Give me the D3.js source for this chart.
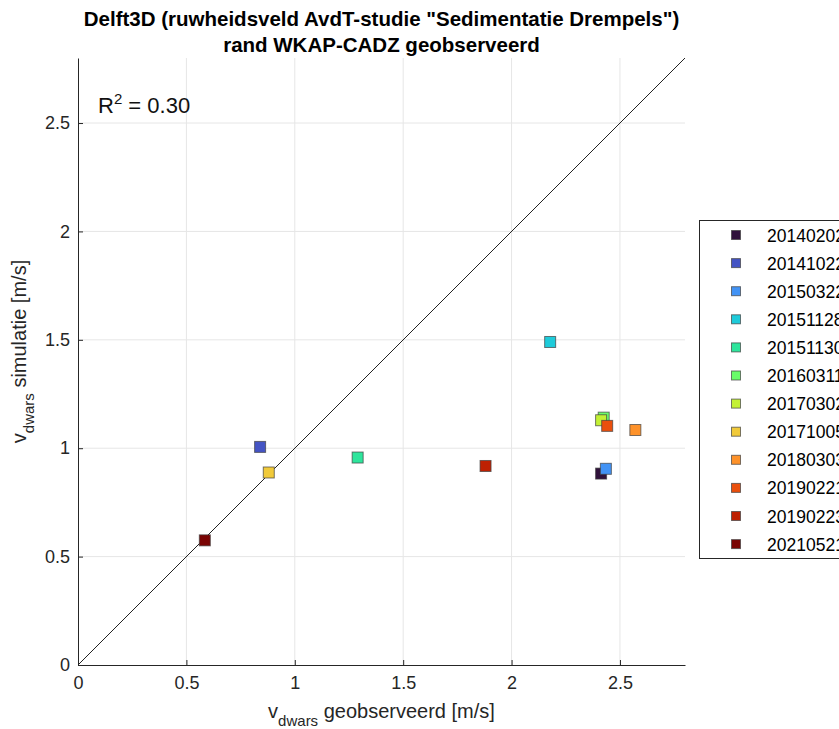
<!DOCTYPE html>
<html><head><meta charset="utf-8">
<script src="https://cdn.jsdelivr.net/npm/d3@7"></script>
<style>body{margin:0;background:#fff;} svg{display:block;font-family:"Liberation Sans",Arial,sans-serif;}</style>
</head><body>
<script>
const labels = ["20140202","20141022","20150322","20151128","20151130","20160311","20170302","20171005","20180303","20190221","20190223","20210521"];
const observed = [2.413,0.840,2.435,2.178,1.290,2.425,2.413,0.880,2.571,2.441,1.880,0.585];
const simulated = [0.883,1.006,0.905,1.490,0.957,1.141,1.129,0.888,1.084,1.103,0.918,0.575];
const colors = ["#30123b","#4454c4","#4293f5","#1ecbda","#2ee59c","#6afd6a","#c3f134","#f1ca3a","#fe922a","#ea4f0d","#be2102","#7a0403"];
const xTicks = [0,0.5,1,1.5,2,2.5];
const yTicks = [0,0.5,1,1.5,2,2.5];
const r2 = "0.30";

const W=839,H=729;
const m={l:78,r:685,t:58,b:665};
const svg=d3.select("body").append("svg").attr("width",W).attr("height",H);
const x=d3.scaleLinear().domain([0,2.8]).range([m.l,m.r]);
const y=d3.scaleLinear().domain([0,2.8]).range([m.b,m.t]);

// grid
svg.append("g").selectAll("line").data(xTicks.slice(1)).join("line")
 .attr("x1",d=>x(d)).attr("x2",d=>x(d)).attr("y1",m.t).attr("y2",m.b)
 .attr("stroke","#e6e6e6").attr("stroke-width",1);
svg.append("g").selectAll("line").data(yTicks.slice(1)).join("line")
 .attr("y1",d=>y(d)).attr("y2",d=>y(d)).attr("x1",m.l).attr("x2",m.r)
 .attr("stroke","#e6e6e6").attr("stroke-width",1);

// axes
const xa=svg.append("g").attr("transform",`translate(0,${m.b})`)
 .call(d3.axisBottom(x).tickValues(xTicks).tickSize(-5).tickSizeOuter(0).tickPadding(11).tickFormat(d=>d3.format("")(d)));
const ya=svg.append("g").attr("transform",`translate(${m.l},0)`)
 .call(d3.axisLeft(y).tickValues(yTicks).tickSize(-5).tickSizeOuter(0).tickPadding(8).tickFormat(d=>d3.format("")(d)));
[xa,ya].forEach(a=>{a.select(".domain").attr("stroke","#262626");a.selectAll(".tick line").attr("stroke","#262626");
 a.selectAll("text").attr("fill","#262626").style("font-size","18px").style("font-family","Liberation Sans, Arial, sans-serif");});

// diagonal
svg.append("line").attr("x1",x(0)).attr("y1",y(0)).attr("x2",x(2.8)).attr("y2",y(2.8))
 .attr("stroke","#222").attr("stroke-width",1);

// points
svg.append("g").selectAll("rect").data(labels).join("rect")
 .attr("x",(d,i)=>x(observed[i])-5.5).attr("y",(d,i)=>y(simulated[i])-5.5)
 .attr("width",11).attr("height",11)
 .attr("fill",(d,i)=>colors[i]).attr("stroke","#404040").attr("stroke-opacity",0.7).attr("stroke-width",1);

// R2
const rt=svg.append("text").attr("x",98).attr("y",113).attr("fill","#111").style("font-size","22px");
rt.append("tspan").text("R");
rt.append("tspan").attr("dy",-9).style("font-size","15px").text("2");
rt.append("tspan").attr("dy",9).text(" = "+r2);

// title
svg.append("text").attr("x",(m.l+m.r)/2).attr("y",26).attr("text-anchor","middle").attr("font-weight","bold")
 .style("font-size","20.5px").attr("fill","#000").text('Delft3D (ruwheidsveld AvdT-studie "Sedimentatie Drempels")');
svg.append("text").attr("x",(m.l+m.r)/2).attr("y",52).attr("text-anchor","middle").attr("font-weight","bold")
 .style("font-size","20.5px").attr("fill","#000").text('rand WKAP-CADZ geobserveerd');

// x label
const xl=svg.append("text").attr("x",(m.l+m.r)/2).attr("y",718).attr("text-anchor","middle").attr("fill","#262626").style("font-size","20px");
xl.append("tspan").text("v");
xl.append("tspan").attr("dy",8).style("font-size","15px").text("dwars");
xl.append("tspan").attr("dy",-8).text(" geobserveerd [m/s]");
// y label
const yl=svg.append("text").attr("transform",`translate(26,${(m.t+m.b)/2 - 10}) rotate(-90)`).attr("text-anchor","middle").attr("fill","#262626").style("font-size","20px");
yl.append("tspan").text("v");
yl.append("tspan").attr("dy",8).style("font-size","15px").text("dwars");
yl.append("tspan").attr("dy",-8).text(" simulatie [m/s]");

// legend
const lg=svg.append("g");
lg.append("rect").attr("x",699.5).attr("y",220.5).attr("width",160).attr("height",338).attr("fill","#fff").attr("stroke","#262626").attr("stroke-width",1);
labels.forEach((l,i)=>{
 const cy=235+i*28.1;
 lg.append("rect").attr("x",731.5).attr("y",cy-4.5).attr("width",9).attr("height",9).attr("fill",colors[i]).attr("stroke","#404040").attr("stroke-opacity",0.7);
 lg.append("text").attr("x",767).attr("y",cy+6.5).attr("fill","#000").style("font-size","17.5px").text(l);
});
</script>
</body></html>
